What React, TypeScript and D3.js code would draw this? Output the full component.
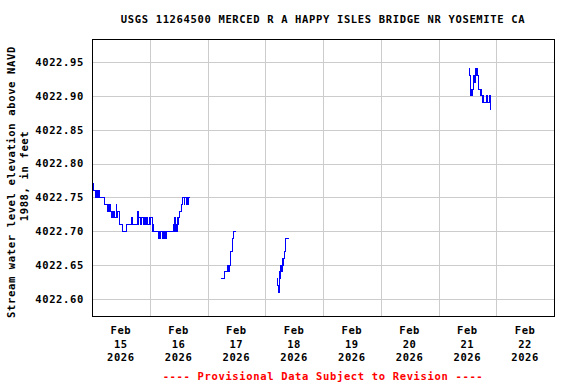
import React from "react";
import * as d3 from "d3";

const TITLE = "USGS 11264500 MERCED R A HAPPY ISLES BRIDGE NR YOSEMITE CA";
const Y_LABEL_1 = "Stream water level elevation above NAVD";
const Y_LABEL_2 = "1988, in feet";
const FOOTER = "---- Provisional Data Subject to Revision ----";

const yTicks = [4022.6, 4022.65, 4022.7, 4022.75, 4022.8, 4022.85, 4022.9, 4022.95];
const dayLabels = ["15", "16", "17", "18", "19", "20", "21", "22"];

// Segment 1: Feb 15 00:00 – Feb 16 16:45
const seg1Times = [
  "02-15 00:00", "02-15 00:30", "02-15 01:15", "02-15 01:30", "02-15 02:00", "02-15 02:15", "02-15 02:45",
  "02-15 03:00", "02-15 03:15", "02-15 05:15", "02-15 06:15", "02-15 06:30", "02-15 07:00",
  "02-15 07:15", "02-15 07:45", "02-15 08:00", "02-15 08:30", "02-15 08:45", "02-15 09:15",
  "02-15 09:30", "02-15 10:00", "02-15 10:15", "02-15 10:30", "02-15 11:15",
  "02-15 12:45", "02-15 14:15", "02-15 16:30", "02-15 16:45", "02-15 19:00", "02-15 19:15", "02-15 19:30",
  "02-15 20:00", "02-15 20:30", "02-15 21:30", "02-15 21:45", "02-15 22:15",
  "02-15 22:30", "02-15 23:15", "02-15 23:45",
  "02-16 00:15", "02-16 00:30", "02-16 01:15", "02-16 01:30", "02-16 01:45",
  "02-16 03:45", "02-16 04:00", "02-16 04:15", "02-16 04:30", "02-16 05:30", "02-16 05:45", "02-16 06:00",
  "02-16 06:30", "02-16 06:45", "02-16 07:00", "02-16 09:45", "02-16 10:00", "02-16 10:15", "02-16 10:30",
  "02-16 10:45", "02-16 11:00", "02-16 11:30", "02-16 11:45", "02-16 12:00", "02-16 12:15",
  "02-16 13:00", "02-16 13:45", "02-16 14:15", "02-16 14:30", "02-16 15:15",
  "02-16 15:30", "02-16 16:00", "02-16 16:15", "02-16 16:45",
];
const seg1Values = [
  4022.77, 4022.76, 4022.75, 4022.76, 4022.75, 4022.76, 4022.75,
  4022.76, 4022.75, 4022.74, 4022.73, 4022.74, 4022.73,
  4022.74, 4022.73, 4022.72, 4022.73, 4022.72, 4022.73,
  4022.72, 4022.74, 4022.72, 4022.73, 4022.71,
  4022.70, 4022.71, 4022.72, 4022.71, 4022.73, 4022.71, 4022.72,
  4022.71, 4022.72, 4022.71, 4022.72, 4022.71,
  4022.72, 4022.71, 4022.72,
  4022.71, 4022.72, 4022.70, 4022.71, 4022.70,
  4022.69, 4022.70, 4022.69, 4022.70, 4022.69, 4022.70, 4022.69,
  4022.70, 4022.69, 4022.70, 4022.71, 4022.70, 4022.72, 4022.70,
  4022.71, 4022.70, 4022.72, 4022.71, 4022.72, 4022.73,
  4022.74, 4022.75, 4022.74, 4022.75, 4022.74,
  4022.75, 4022.74, 4022.75, 4022.75,
];

// Segment 2: Feb 17 morning
const seg2Times = [
  "02-17 05:45", "02-17 07:00", "02-17 08:15", "02-17 08:30", "02-17 08:45", "02-17 09:00", "02-17 09:15",
  "02-17 09:30", "02-17 09:45", "02-17 10:15", "02-17 10:30", "02-17 11:00", "02-17 11:45",
];
const seg2Values = [
  4022.63, 4022.64, 4022.65, 4022.64, 4022.65, 4022.64, 4022.65,
  4022.66, 4022.67, 4022.68, 4022.69, 4022.70, 4022.70,
];

// Segment 3: Feb 18 morning
const seg3Times = [
  "02-18 05:00", "02-18 05:15", "02-18 05:30", "02-18 05:45", "02-18 06:00", "02-18 06:15", "02-18 06:30",
  "02-18 06:45", "02-18 07:00", "02-18 07:15", "02-18 07:30", "02-18 08:00", "02-18 08:15", "02-18 08:30",
  "02-18 09:45",
];
const seg3Values = [
  4022.63, 4022.62, 4022.61, 4022.62, 4022.64, 4022.63, 4022.65,
  4022.64, 4022.66, 4022.65, 4022.66, 4022.67, 4022.68, 4022.69,
  4022.69,
];

// Segment 4: Feb 21 afternoon
const seg4Times = [
  "02-21 12:45", "02-21 13:00", "02-21 13:15", "02-21 13:30", "02-21 13:45", "02-21 14:00", "02-21 14:15",
  "02-21 14:30", "02-21 14:45", "02-21 15:00", "02-21 15:15", "02-21 15:30", "02-21 15:45", "02-21 16:00",
  "02-21 16:30", "02-21 16:45", "02-21 17:15", "02-21 17:30", "02-21 17:45", "02-21 18:15", "02-21 18:30",
  "02-21 18:45", "02-21 19:15", "02-21 20:00", "02-21 20:15", "02-21 21:15", "02-21 21:30",
  "02-21 21:45",
];
const seg4Values = [
  4022.94, 4022.93, 4022.92, 4022.90, 4022.91, 4022.90, 4022.91,
  4022.92, 4022.93, 4022.92, 4022.94, 4022.93, 4022.94, 4022.93,
  4022.92, 4022.91, 4022.90, 4022.91, 4022.90, 4022.89, 4022.90,
  4022.89, 4022.89, 4022.90, 4022.89, 4022.90, 4022.88,
  4022.88,
];

const segments = [
  [seg1Times, seg1Values],
  [seg2Times, seg2Values],
  [seg3Times, seg3Values],
  [seg4Times, seg4Values],
];

const parse = d3.timeParse("%Y-%m-%d %H:%M");
const FONT = "'DejaVu Sans Mono', monospace";

export default function App() {
  const W = 576, H = 384;
  const left = 92, right = 554, top = 39, bottom = 316;
  const x = d3.scaleTime()
    .domain([parse("2026-02-15 00:00")!, parse("2026-02-23 00:00")!])
    .range([left, right]);
  const y = d3.scaleLinear().domain([4022.575, 4022.984]).range([bottom, top]);
  const days = d3.timeDay.range(parse("2026-02-16 00:00")!, parse("2026-02-23 00:00")!);
  const noons = dayLabels.map((d) => parse(`2026-02-${d} 12:00`)!);

  const line = d3.line<[Date, number]>()
    .x((d) => x(d[0]))
    .y((d) => y(d[1]))
    .curve(d3.curveStepAfter);

  const textStyle = { fontFamily: FONT, fontWeight: "bold" as const, fontSize: 10.5, letterSpacing: 0.65 };

  return (
    <svg width={W} height={H} style={{ position: "absolute", left: 0, top: 0, background: "#fff" }}>
      <rect x={0} y={0} width={W} height={H} fill="#fff" />
      <g shapeRendering="crispEdges">
        {yTicks.map((t) => (
          <line key={t} x1={left} x2={right} y1={Math.round(y(t)) + 0.5} y2={Math.round(y(t)) + 0.5} stroke="#cccccc" />
        ))}
        {days.map((d) => (
          <line key={+d} y1={top} y2={bottom} x1={Math.round(x(d)) + 0.5} x2={Math.round(x(d)) + 0.5} stroke="#cccccc" />
        ))}
      </g>
      <g shapeRendering="crispEdges">
        {segments.map(([times, vals], i) => {
          const pts = (times as string[]).map((t, j) => [parse("2026-" + t)!, (vals as number[])[j]] as [Date, number]);
          return <path key={i} d={line(pts) || ""} fill="none" stroke="#0000ff" strokeWidth={1} />;
        })}
      </g>
      <rect x={left + 0.5} y={top + 0.5} width={right - left} height={bottom - top} fill="none" stroke="#000" strokeWidth={1} shapeRendering="crispEdges" />
      <text x={(left + right) / 2} y={23} textAnchor="middle" style={textStyle}>{TITLE}</text>
      {yTicks.map((t) => (
        <text key={t} x={84} y={y(t)} dy="0.36em" textAnchor="end" style={textStyle}>{d3.format(".2f")(t)}</text>
      ))}
      <text transform="translate(11,182) rotate(-90)" textAnchor="middle" dominantBaseline="central" style={textStyle}>{Y_LABEL_1}</text>
      <text transform="translate(24,176) rotate(-90)" textAnchor="middle" dominantBaseline="central" style={textStyle}>{Y_LABEL_2}</text>
      {noons.map((d, i) => (
        <g key={i}>
          <text x={x(d)} y={334} textAnchor="middle" style={textStyle}>Feb</text>
          <text x={x(d)} y={348} textAnchor="middle" style={textStyle}>{dayLabels[i]}</text>
          <text x={x(d)} y={361} textAnchor="middle" style={textStyle}>2026</text>
        </g>
      ))}
      <text x={(left + right) / 2} y={380} textAnchor="middle" fill="#ff0000" style={textStyle}>{FOOTER}</text>
    </svg>
  );
}
